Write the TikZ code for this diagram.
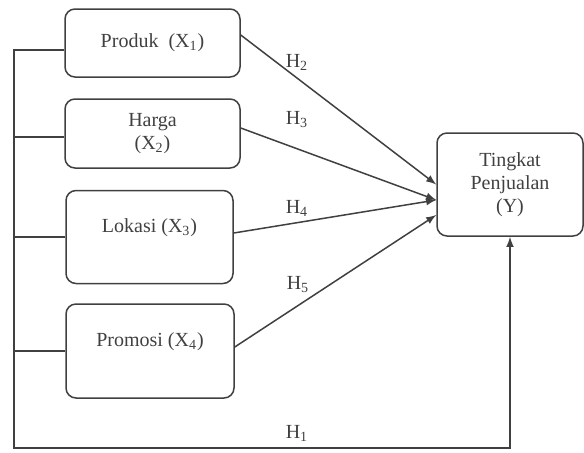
\documentclass[tikz,border=0pt]{standalone}
\usepackage{fontspec}
\setmainfont{Liberation Serif}
\usetikzlibrary{arrows}

\tikzset{
  var/.style={draw, rounded corners=5pt, align=center, inner sep=2pt},
  upper/.style={text depth=11pt}
}

\begin{document}
\begin{tikzpicture}[x=0.5pt,y=-0.5pt,font=\fontsize{10}{11.5}\selectfont,line width=0.75pt,color=black!75]
   \useasboundingbox (0,0) rectangle (584,452);

   \draw (152.5,43) node[var,minimum width=87.5pt,minimum height=34pt] (produk) {Produk~ (X\textsubscript{1})};
   \draw (152.5,133.5) node[var,minimum width=87.5pt,minimum height=34.5pt] (harga) {Harga\\(X\textsubscript{2})};
   \draw (149.5,237) node[var,upper,minimum width=83.5pt,minimum height=46.5pt] (lokasi) {Lokasi (X\textsubscript{3})};
   \draw (150,351) node[var,upper,minimum width=84pt,minimum height=47pt] (promosi) {Promosi (X\textsubscript{4})};

   \draw (510,184.5) node[var,minimum width=73pt,minimum height=51.5pt] (Y) {Tingkat\\Penjualan\\(Y)};
   \coordinate (corner) at (14,448);

     \draw (297,62) node (h2) {H\textsubscript{2}};
     \draw (297,120) node (h3) {H\textsubscript{3}};
     \draw (297,208) node (h4) {H\textsubscript{4}};
     \draw (298,285) node (h5) {H\textsubscript{5}};
     \draw (297,433) node (h1) {H\textsubscript{1}};

     \path[-latex] ([yshift=4pt]produk.east) edge (Y.west);
     \path[-latex] ([yshift=2.75pt]harga.east) edge ([yshift=-7.75pt]Y.west);
     \path[-latex] ([yshift=2pt]lokasi.east) edge ([yshift=-7.75pt]Y.west);
     \path[-latex] ([yshift=2pt]promosi.east) edge ([yshift=-15.25pt]Y.west);

     \draw[-latex] ([yshift=-3.5pt]produk.west) -| (corner) -| (Y.south);
     \draw ([yshift=-1.75pt]harga.west) -- ([yshift=-1.75pt]harga.west -| corner);
     \draw (lokasi.west) -- (lokasi.west -| corner);
     \draw (promosi.west) -- (promosi.west -| corner);

\end{tikzpicture}
\end{document}
